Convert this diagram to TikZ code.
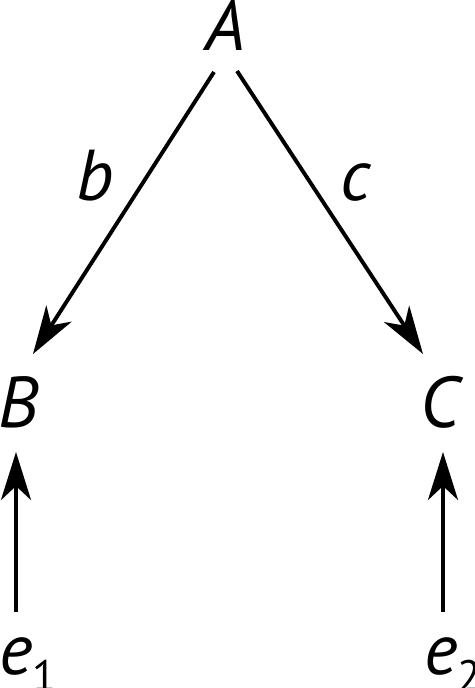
\documentclass[tikz,border=0pt]{standalone}
\usepackage{fontspec}
\setmainfont{PT Sans}
\usetikzlibrary{arrows.meta}
\begin{document}
\begin{tikzpicture}[x=1pt,y=-1pt,
  lbl/.style={font=\fontsize{72}{80}\selectfont\itshape, inner sep=0pt, anchor=base},
  conn/.style={line width=3.9pt, -{Stealth[length=48pt,width=30pt,inset=14pt]}}]
\useasboundingbox (0,0) rectangle (474,688);
\node[lbl] (A) at (226,50) {A};
\node[lbl] (B) at (19,427) {B};
\node[lbl] (C) at (440,427) {C};
\node[lbl, anchor=base west] (e1) at (-1,674) {e\raisebox{-17pt}{\fontsize{44}{50}\selectfont\upshape 1}};
\node[lbl, anchor=base west] (e2) at (424,674) {e\raisebox{-17pt}{\fontsize{44}{50}\selectfont\upshape 2}};
\node[lbl] (lb) at (95,200) {b};
\node[lbl] (lc) at (356,200) {c};
\coordinate (Al) at (214,72);
\coordinate (Ar) at (237,71);
\coordinate (Bt) at (33,354);
\coordinate (Ct) at (423,354);
\coordinate (e1t) at (16,612);
\coordinate (e2t) at (443,612);
\coordinate (Bb) at (16,452);
\coordinate (Cb) at (443,452);
\draw[conn] (Al) -- (Bt);
\draw[conn] (Ar) -- (Ct);
\draw[conn] (e1t) -- (Bb);
\draw[conn] (e2t) -- (Cb);
\end{tikzpicture}
\end{document}
